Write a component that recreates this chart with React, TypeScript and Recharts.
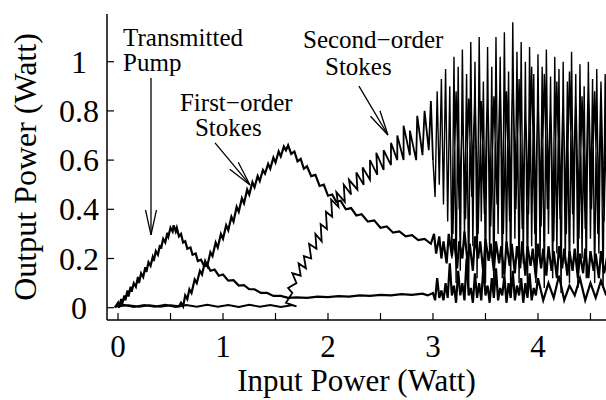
import { LineChart, Line, XAxis, YAxis, ReferenceLine, ReferenceDot } from 'recharts';

// transmitted pump as [input, output] (Watt)
const pumpRise = [
  [-0.03, 0.0], [0.0, 0.02], [0.01, 0.0], [0.03, 0.035], [0.04, 0.015], [0.06, 0.05], [0.07, 0.03],
  [0.09, 0.07], [0.1, 0.045], [0.12, 0.085], [0.13, 0.065], [0.15, 0.1], [0.17, 0.085], [0.19, 0.125],
  [0.2, 0.1], [0.22, 0.14], [0.24, 0.125], [0.26, 0.165], [0.27, 0.145], [0.29, 0.185], [0.31, 0.17],
  [0.33, 0.205], [0.34, 0.19], [0.36, 0.23], [0.38, 0.215], [0.4, 0.255], [0.41, 0.24], [0.43, 0.28],
  [0.45, 0.265], [0.47, 0.305], [0.48, 0.29], [0.5, 0.325], [0.52, 0.31], [0.53, 0.335],
];
const pumpFall = [
  [0.55, 0.31], [0.56, 0.325], [0.58, 0.29], [0.6, 0.3], [0.62, 0.265], [0.64, 0.27], [0.66, 0.24],
  [0.69, 0.245], [0.71, 0.215], [0.74, 0.22], [0.76, 0.19], [0.79, 0.195], [0.82, 0.17], [0.85, 0.175],
  [0.88, 0.15], [0.92, 0.155], [0.96, 0.13], [1.0, 0.135], [1.05, 0.11], [1.1, 0.112], [1.15, 0.09],
  [1.2, 0.092], [1.25, 0.075], [1.3, 0.075], [1.36, 0.06], [1.42, 0.06], [1.48, 0.048], [1.55, 0.048],
  [1.62, 0.04], [1.7, 0.042], [1.8, 0.04], [1.9, 0.045], [2.0, 0.043], [2.1, 0.047], [2.2, 0.045],
  [2.3, 0.05], [2.4, 0.048], [2.5, 0.052], [2.6, 0.05], [2.7, 0.055], [2.8, 0.052], [2.9, 0.057], [2.95, 0.05],
];
const pumpTail = [
  [3.0, 0.06], [3.02, 0.03], [3.04, 0.12], [3.06, 0.04], [3.08, 0.07], [3.1, 0.03], [3.12, 0.1], [3.14, 0.04],
  [3.16, 0.18], [3.18, 0.05], [3.2, 0.09], [3.22, 0.02], [3.24, 0.15], [3.26, 0.05], [3.28, 0.1], [3.3, 0.03],
  [3.32, 0.2], [3.34, 0.05], [3.36, 0.08], [3.38, 0.02], [3.4, 0.14], [3.42, 0.04], [3.44, 0.1], [3.46, 0.03],
  [3.48, 0.17], [3.5, 0.05], [3.52, 0.09], [3.54, 0.02], [3.56, 0.12], [3.58, 0.04], [3.6, 0.16], [3.62, 0.03],
  [3.64, 0.08], [3.66, 0.05], [3.68, 0.13], [3.7, 0.02], [3.72, 0.1], [3.74, 0.04], [3.76, 0.15], [3.78, 0.03],
  [3.8, 0.09], [3.82, 0.05], [3.84, 0.12], [3.86, 0.02], [3.88, 0.1], [3.9, 0.04], [3.92, 0.14], [3.94, 0.03],
  [3.96, 0.08], [3.98, 0.05], [4.0, 0.12], [4.05, 0.03], [4.1, 0.1], [4.15, 0.04], [4.2, 0.13], [4.25, 0.03],
  [4.3, 0.09], [4.35, 0.05], [4.4, 0.12], [4.45, 0.03], [4.5, 0.1], [4.55, 0.04], [4.6, 0.11], [4.65, 0.05],
];

// first-order Stokes
const firstBase = [
  [-0.03, 0.005], [0.1, 0.01], [0.2, 0.004], [0.3, 0.01], [0.4, 0.004], [0.5, 0.01], [0.58, 0.006],
];
const firstRise = [
  [0.6, 0.02], [0.62, 0.005], [0.64, 0.05], [0.66, 0.035], [0.68, 0.075], [0.7, 0.06], [0.73, 0.115],
  [0.75, 0.1], [0.78, 0.15], [0.8, 0.135], [0.83, 0.19], [0.85, 0.17], [0.88, 0.225], [0.9, 0.21],
  [0.93, 0.265], [0.95, 0.245], [0.98, 0.3], [1.0, 0.28], [1.03, 0.335], [1.05, 0.315], [1.08, 0.37],
  [1.1, 0.35], [1.13, 0.41], [1.15, 0.39], [1.18, 0.445], [1.2, 0.425], [1.23, 0.48], [1.25, 0.46],
  [1.28, 0.51], [1.3, 0.49], [1.33, 0.535], [1.35, 0.515], [1.38, 0.56], [1.4, 0.545], [1.43, 0.585],
  [1.45, 0.565], [1.48, 0.61], [1.5, 0.59], [1.53, 0.635], [1.55, 0.615], [1.58, 0.655], [1.6, 0.64],
];
const firstFall = [
  [1.62, 0.66], [1.65, 0.625], [1.68, 0.635], [1.71, 0.595], [1.74, 0.605], [1.77, 0.565], [1.8, 0.575],
  [1.84, 0.535], [1.88, 0.54], [1.92, 0.495], [1.96, 0.5], [2.0, 0.455], [2.04, 0.46], [2.08, 0.43],
  [2.12, 0.435], [2.17, 0.4], [2.22, 0.405], [2.27, 0.375], [2.32, 0.38], [2.38, 0.35], [2.44, 0.355],
  [2.5, 0.325], [2.56, 0.33], [2.62, 0.305], [2.68, 0.31], [2.74, 0.29], [2.8, 0.295], [2.86, 0.275],
  [2.92, 0.28], [2.98, 0.26],
];
const firstTail = [
  [3.01, 0.3], [3.03, 0.22], [3.06, 0.29], [3.08, 0.2], [3.1, 0.27], [3.13, 0.18], [3.15, 0.3], [3.18, 0.21],
  [3.2, 0.28], [3.23, 0.16], [3.25, 0.27], [3.28, 0.2], [3.3, 0.31], [3.33, 0.18], [3.35, 0.26], [3.38, 0.15],
  [3.4, 0.29], [3.43, 0.2], [3.45, 0.27], [3.48, 0.14], [3.5, 0.28], [3.53, 0.19], [3.55, 0.26], [3.58, 0.15],
  [3.6, 0.27], [3.63, 0.18], [3.65, 0.25], [3.68, 0.13], [3.7, 0.27], [3.73, 0.17], [3.75, 0.26], [3.78, 0.14],
  [3.8, 0.25], [3.83, 0.16], [3.85, 0.27], [3.88, 0.13], [3.9, 0.25], [3.93, 0.17], [3.95, 0.24], [3.98, 0.12],
  [4.0, 0.26], [4.03, 0.16], [4.05, 0.24], [4.08, 0.13], [4.1, 0.25], [4.13, 0.15], [4.15, 0.23], [4.18, 0.12],
  [4.2, 0.25], [4.23, 0.16], [4.25, 0.24], [4.28, 0.13], [4.3, 0.23], [4.33, 0.15], [4.35, 0.24], [4.38, 0.12],
  [4.4, 0.22], [4.43, 0.14], [4.45, 0.24], [4.48, 0.12], [4.5, 0.23], [4.53, 0.15], [4.55, 0.22], [4.58, 0.12],
  [4.6, 0.23], [4.63, 0.14], [4.66, 0.21],
];

// second-order Stokes
const secondBase = [
  [-0.03, 0.004], [0.05, 0.012], [0.15, 0.003], [0.25, 0.011], [0.35, 0.004], [0.45, 0.012], [0.55, 0.003],
  [0.65, 0.011], [0.75, 0.004], [0.85, 0.012], [0.95, 0.004], [1.05, 0.011], [1.15, 0.003], [1.25, 0.012],
  [1.35, 0.004], [1.45, 0.011], [1.55, 0.003], [1.65, 0.01], [1.7, 0.005],
];
const secondRise = [
  [1.6, 0.02], [1.66, 0.06], [1.62, 0.08], [1.7, 0.1], [1.66, 0.14], [1.74, 0.13], [1.72, 0.18], [1.79, 0.16],
  [1.77, 0.21], [1.84, 0.2], [1.82, 0.26], [1.89, 0.24], [1.88, 0.3], [1.94, 0.27], [1.93, 0.34], [1.99, 0.32],
  [1.98, 0.39], [2.04, 0.37], [2.03, 0.44], [2.1, 0.41], [2.08, 0.47], [2.16, 0.43], [2.15, 0.5], [2.22, 0.46],
  [2.2, 0.52], [2.28, 0.48], [2.27, 0.55], [2.34, 0.5], [2.33, 0.57], [2.4, 0.52], [2.4, 0.6], [2.47, 0.54],
  [2.46, 0.63], [2.53, 0.56], [2.53, 0.64], [2.6, 0.58], [2.6, 0.67], [2.66, 0.6], [2.66, 0.7], [2.72, 0.6],
  [2.72, 0.74], [2.78, 0.62], [2.78, 0.72], [2.84, 0.6], [2.85, 0.78], [2.9, 0.62], [2.92, 0.8], [2.96, 0.64],
  [2.98, 0.84], [3.0, 0.6],
];
const secondChaos = [
  [3.0, 0.6], [3.02, 0.45], [3.04, 0.88], [3.06, 0.5], [3.08, 0.93], [3.1, 0.42], [3.12, 0.97], [3.14, 0.35],
  [3.16, 0.9], [3.18, 0.2], [3.2, 1.02], [3.22, 0.1], [3.24, 0.98], [3.26, 0.15], [3.28, 1.05], [3.3, 0.3],
  [3.32, 0.95], [3.34, 0.08], [3.36, 1.08], [3.38, 0.25], [3.4, 1.0], [3.42, 0.12], [3.44, 1.1], [3.46, 0.35],
  [3.48, 0.92], [3.5, 0.1], [3.52, 1.06], [3.54, 0.2], [3.56, 0.98], [3.58, 0.06], [3.6, 1.1], [3.62, 0.3],
  [3.64, 1.02], [3.66, 0.12], [3.68, 1.12], [3.7, 0.22], [3.72, 0.96], [3.74, 0.08], [3.76, 1.16], [3.78, 0.28],
  [3.8, 1.04], [3.82, 0.1], [3.84, 1.08], [3.86, 0.18], [3.88, 1.0], [3.9, 0.07], [3.92, 1.06], [3.94, 0.25],
  [3.96, 0.95], [3.98, 0.1], [4.0, 1.03], [4.02, 0.2], [4.04, 0.98], [4.06, 0.08], [4.08, 1.05], [4.1, 0.3],
  [4.12, 0.94], [4.14, 0.12], [4.16, 1.02], [4.18, 0.22], [4.2, 0.97], [4.22, 0.06], [4.24, 1.0], [4.26, 0.18],
  [4.28, 0.92], [4.3, 0.1], [4.32, 1.04], [4.34, 0.26], [4.36, 0.95], [4.38, 0.08], [4.4, 0.99], [4.42, 0.2],
  [4.44, 0.9], [4.46, 0.12], [4.48, 1.0], [4.5, 0.28], [4.52, 0.93], [4.54, 0.1], [4.56, 0.97], [4.58, 0.22],
  [4.6, 0.9], [4.62, 0.08], [4.64, 0.95], [4.66, 0.3],
];
const secondBack = [
  [4.65, 0.85], [4.63, 0.35], [4.6, 0.92], [4.57, 0.3], [4.54, 0.88], [4.51, 0.4], [4.48, 0.95], [4.45, 0.32],
  [4.42, 0.86], [4.39, 0.28], [4.36, 0.9], [4.33, 0.38], [4.3, 0.96], [4.27, 0.3], [4.24, 0.88], [4.21, 0.36],
  [4.18, 0.92], [4.15, 0.27], [4.12, 0.87], [4.09, 0.4], [4.06, 0.95], [4.03, 0.33], [4.0, 0.9], [3.97, 0.3],
  [3.94, 0.98], [3.91, 0.38], [3.88, 0.85], [3.85, 0.32], [3.82, 0.93], [3.79, 0.4], [3.76, 1.0], [3.73, 0.35],
  [3.7, 0.88], [3.67, 0.3], [3.64, 0.95], [3.61, 0.42], [3.58, 0.86], [3.55, 0.33], [3.52, 0.92], [3.49, 0.38],
  [3.46, 0.84], [3.43, 0.3], [3.4, 0.9], [3.37, 0.45], [3.34, 0.85], [3.31, 0.36], [3.28, 0.8], [3.25, 0.4],
  [3.22, 0.88], [3.19, 0.3],
];

const xTicks = [0, 0.5, 1, 1.5, 2, 2.5, 3, 3.5, 4, 4.5];
const yTicks = [0, 0.2, 0.4, 0.6, 0.8, 1];

const toPts = (arr: number[][]) => arr.map(([x, y]) => ({ x, y }));
const pumpData = toPts([...pumpRise, ...pumpFall, ...pumpTail]);
const firstData = toPts([...firstBase, ...firstRise, ...firstFall, ...firstTail]);
const secondEarly = toPts([...secondBase, ...secondRise]);
const secondLate = toPts([...secondChaos, ...secondBack]);

const serif = { fontFamily: "'Liberation Serif', 'Times New Roman', serif" };

const BottomTick = (props: any) => {
  const { x, y, payload } = props;
  const major = Number.isInteger(payload.value);
  return (
    <g>
      <line x1={x} y1={y} x2={x} y2={y - 7} stroke="#000" strokeWidth={1.2} />
      {major && (
        <text x={x} y={y + 37} textAnchor="middle" fontSize={31} style={serif} fill="#000">
          {payload.value}
        </text>
      )}
    </g>
  );
};

const TopTick = (props: any) => {
  const { x, y } = props;
  return <line x1={x} y1={y} x2={x} y2={y + 7} stroke="#000" strokeWidth={1.2} />;
};

const LeftTick = (props: any) => {
  const { x, y, payload } = props;
  return (
    <g>
      <line x1={x} y1={y} x2={x + 7} y2={y} stroke="#000" strokeWidth={1.2} />
      <text x={79} y={y + 11} textAnchor="middle" fontSize={32} style={serif} fill="#000">
        {String(payload.value)}
      </text>
    </g>
  );
};

const note = (lines: string[], dx: number[], dy: number[]) => (props: any) => {
  const { x, y } = props.viewBox;
  return (
    <text fontSize={25} style={serif} fill="#000">
      {lines.map((l, i) => (
        <tspan key={i} x={x + dx[i]} y={y + dy[i]}>{l}</tspan>
      ))}
    </text>
  );
};

const arrow = (p: any) => (
  <line x1={p.x1} y1={p.y1} x2={p.x2} y2={p.y2} stroke="#000" strokeWidth={1.3} markerEnd="url(#openArrow)" />
);

export default function App() {
  return (
    <div>
      <style>{'body{margin:0}'}</style>
      <LineChart width={606} height={400} margin={{ top: 14, right: 0, bottom: 0, left: 0 }}>
        <defs>
          <marker id="openArrow" markerUnits="userSpaceOnUse" markerWidth={28} markerHeight={14}
            refX={25} refY={7} orient="auto">
            <path d="M0,1.5 L25,7 L0,12.5" fill="none" stroke="#000" strokeWidth={1.3} />
          </marker>
        </defs>
        <XAxis
          dataKey="x"
          type="number"
          domain={[-0.105, 4.648]}
          allowDataOverflow
          ticks={xTicks}
          interval={0}
          height={80}
          tickSize={0}
          tickMargin={0}
          tickLine={false}
          axisLine={{ stroke: '#000', strokeWidth: 1.5 }}
          tick={<BottomTick />}
          label={{
            content: (p: any) => (
              <text x={p.viewBox.x + p.viewBox.width / 2} y={p.viewBox.y + 71} textAnchor="middle"
                fontSize={31} style={serif} fill="#000">Input Power (Watt)</text>
            ),
          }}
        />
        <XAxis
          xAxisId="top"
          orientation="top"
          type="number"
          domain={[-0.105, 4.648]}
          allowDataOverflow
          ticks={xTicks}
          interval={0}
          height={0}
          tickSize={0}
          tickMargin={0}
          tickLine={false}
          axisLine={{ stroke: '#000', strokeWidth: 1.5 }}
          tick={<TopTick />}
        />
        <YAxis
          type="number"
          domain={[-0.05, 1.194]}
          allowDataOverflow
          ticks={yTicks}
          interval={0}
          width={107}
          tickSize={0}
          tickMargin={0}
          tickLine={false}
          axisLine={{ stroke: '#000', strokeWidth: 1.5 }}
          tick={<LeftTick />}
          label={{
            content: (p: any) => {
              const cy = p.viewBox.y + p.viewBox.height / 2;
              return (
                <text x={36} y={cy} transform={`rotate(-90 36 ${cy})`} textAnchor="middle"
                  fontSize={32} style={serif} fill="#000">Output Power (Watt)</text>
              );
            },
          }}
        />
        <Line data={pumpData} dataKey="y" stroke="#000" strokeWidth={2.2} dot={false} isAnimationActive={false} />
        <Line data={firstData} dataKey="y" stroke="#000" strokeWidth={2.2} dot={false} isAnimationActive={false} />
        <Line data={secondEarly} dataKey="y" stroke="#000" strokeWidth={1.8} dot={false} isAnimationActive={false} />
        <Line data={secondLate} dataKey="y" stroke="#000" strokeWidth={1.4} dot={false} isAnimationActive={false} />

        <ReferenceLine segment={[{ x: 0.314, y: 0.934 }, { x: 0.314, y: 0.296 }]} shape={arrow} />
        <ReferenceLine segment={[{ x: 0.924, y: 0.67 }, { x: 1.257, y: 0.499 }]} shape={arrow} />
        <ReferenceLine segment={[{ x: 2.295, y: 0.901 }, { x: 2.571, y: 0.702 }]} shape={arrow} />

        <ReferenceDot x={0.048} y={1.065} r={0} fill="none" stroke="none"
          label={{ content: note(['Transmitted', 'Pump'], [0, 0], [0, 25]) }} />
        <ReferenceDot x={0.59} y={0.8} r={0} fill="none" stroke="none"
          label={{ content: note(['First\u2212order', 'Stokes'], [0, 15], [0, 25]) }} />
        <ReferenceDot x={1.762} y={1.056} r={0} fill="none" stroke="none"
          label={{ content: note(['Second\u2212order', 'Stokes'], [0, 22], [0, 27]) }} />
      </LineChart>
    </div>
  );
}
